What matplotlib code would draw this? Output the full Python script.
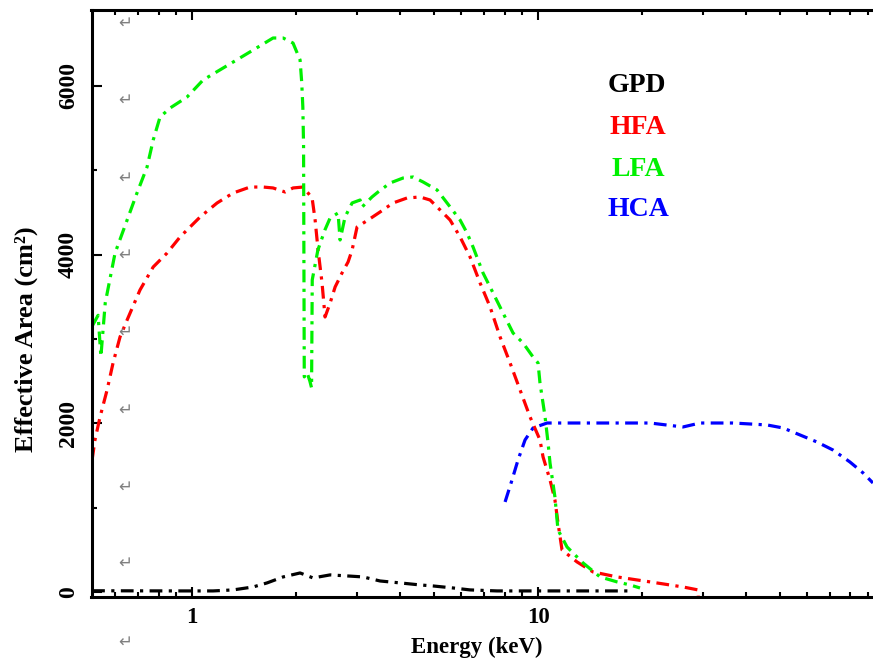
import matplotlib
matplotlib.use("Agg")
import matplotlib.pyplot as plt
from matplotlib.ticker import FixedLocator, NullFormatter

# ---- effective-area curves (energy in keV, area in cm^2) ----
gpd_energy = [0.514, 0.92, 1.15, 1.314, 1.501, 1.647, 1.833, 2.052, 2.237, 2.506,
              2.805, 3.12, 3.494, 3.993, 4.56, 4.97, 5.68, 6.36, 7.61, 10.0, 14.0, 18.8]
gpd_area = [14, 12, 12, 24, 59, 107, 178, 225, 166, 202,
            190, 178, 130, 107, 83, 71, 47, 24, 12, 12, 12, 12]

hfa_energy = [0.514, 0.524, 0.542, 0.568, 0.591, 0.619, 0.649, 0.707, 0.772, 0.847,
              0.923, 1.055, 1.181, 1.314, 1.471, 1.604, 1.714, 1.857, 1.958, 2.094,
              2.223, 2.268, 2.313, 2.375, 2.423, 2.506, 2.591, 2.713, 2.824, 2.901,
              2.998, 3.226, 3.494, 3.81, 4.181, 4.56, 4.875, 5.211, 5.568, 5.952,
              6.362, 6.8, 7.268, 7.768, 8.301, 8.872, 9.482, 10.13, 10.34, 10.83,
              11.19, 11.42, 11.73, 12.96, 14.42, 16.92, 21.08, 26.24, 29.0, 29.05]
hfa_area = [1565, 1802, 2075, 2395, 2715, 3023, 3225, 3580, 3853, 4019,
            4209, 4446, 4612, 4730, 4801, 4801, 4790, 4742, 4790, 4801,
            4671, 4410, 4054, 3663, 3260, 3426, 3616, 3782, 3912, 4054,
            4327, 4410, 4505, 4612, 4671, 4683, 4647, 4529, 4410, 4209,
            3971, 3663, 3379, 3023, 2715, 2395, 2075, 1802, 1600, 1328,
            1091, 818, 498, 356, 237, 178, 119, 59, 24, -60]

lfa_energy = [0.514, 0.535, 0.545, 0.561, 0.599, 0.649, 0.693, 0.741, 0.772, 0.808,
              0.864, 0.967, 1.076, 1.314, 1.501, 1.714, 1.833, 1.958, 2.052, 2.075,
              2.09, 2.10, 2.11, 2.15, 2.19, 2.215, 2.225, 2.31, 2.42, 2.506,
              2.642, 2.678, 2.768, 2.901, 3.059, 3.10, 3.311, 3.448, 3.736, 4.073,
              4.353, 4.652, 5.107, 5.458, 5.952, 6.234, 6.488, 6.934, 7.413, 7.922,
              8.468, 9.05, 9.672, 10.0, 10.13, 10.48, 10.69, 10.83, 11.19, 11.42,
              12.13, 13.49, 15.11, 16.92, 18.44, 19.71]
lfa_area = [3150, 3280, 2790, 3426, 4019, 4410, 4730, 5038, 5358, 5631,
            5738, 5868, 6070, 6283, 6425, 6568, 6568, 6508, 6307, 6034,
            5750, 5300, 2550, 2600, 2500, 2420, 3700, 4054, 4291, 4434,
            4493, 4173, 4446, 4612, 4647, 4564, 4683, 4742, 4849, 4908,
            4920, 4861, 4766, 4612, 4410, 4256, 4090, 3782, 3545, 3307,
            3070, 2952, 2786, 2715, 2478, 2075, 1766, 1529, 1126, 735,
            533, 344, 178, 119, 83, 47]

hca_energy = [8.03, 8.41, 8.753, 9.171, 9.672, 10.62, 12.13, 15.11, 21.08, 26.24,
              29.39, 36.6, 45.9, 51.1, 57.2, 64.0, 71.2, 79.7, 87.0, 92.9]
hca_area = [1067, 1328, 1565, 1802, 1944, 2003, 2003, 2003, 2003, 1956,
            2003, 2003, 1980, 1944, 1861, 1778, 1683, 1541, 1411, 1292]

series_names = ["GPD", "HFA", "LFA", "HCA"]
series_colors = ["#000000", "#ff0000", "#00f000", "#0000ff"]

x_major = [1, 10]
x_major_labels = ["1", "10"]
y_major = [0, 2000, 4000, 6000]
y_minor = [1000, 3000, 5000]

# paragraph marks running down the page
para_marks = ["\u21b5"] * 9
para_mark_y = [23, 100, 178, 255, 332, 410, 487, 563, 642]

W, H = 873, 659
fig = plt.figure(figsize=(W / 100, H / 100), dpi=100)
ax_left, ax_right, ax_top, ax_bottom = 91.5, 884.0, 10.0, 597.0
ax = fig.add_axes([ax_left / W, (H - ax_bottom) / H,
                   (ax_right - ax_left) / W, (ax_bottom - ax_top) / H])

serif = ["Liberation Serif", "DejaVu Serif"]
dash_dot = (0, (4, 2, 1, 2))
lw = 2.3

curves = [(gpd_energy, gpd_area), (hfa_energy, hfa_area),
          (lfa_energy, lfa_area), (hca_energy, hca_area)]
for (e, a), col in zip(curves, series_colors):
    ax.plot(e, a, color=col, lw=lw, linestyle=dash_dot, solid_capstyle="butt")

ax.set_xscale("log")
ax.set_xlim(0.512, 100)
ax.set_ylim(-60, 6900)

ax.xaxis.set_major_locator(FixedLocator(x_major))
ax.set_xticklabels(x_major_labels)
minor_x = [m * d for d in (0.1, 1, 10) for m in range(2, 10)]
ax.xaxis.set_minor_locator(FixedLocator(minor_x))
ax.xaxis.set_minor_formatter(NullFormatter())
ax.yaxis.set_major_locator(FixedLocator(y_major))
ax.yaxis.set_minor_locator(FixedLocator(y_minor))

for s in ax.spines.values():
    s.set_linewidth(2.2)

ax.tick_params(which="both", direction="in", top=True, right=True, width=1.5)
ax.tick_params(which="major", length=7.2)
ax.tick_params(which="minor", length=3.6)
ax.tick_params(axis="x", pad=7)
ax.tick_params(axis="y", pad=9)

for lbl in ax.get_xticklabels():
    lbl.set_fontfamily(serif)
    lbl.set_fontweight("bold")
    lbl.set_fontsize(16.5)
for lbl in ax.get_yticklabels():
    lbl.set_fontfamily(serif)
    lbl.set_fontweight("bold")
    lbl.set_fontsize(17)
    lbl.set_rotation(90)
    lbl.set_va("center")

ax.set_xlabel("Energy (keV)", fontfamily=serif, fontweight="bold", fontsize=16.5)
ax.set_ylabel("Effective Area (cm\u00b2)", fontfamily=serif, fontweight="bold", fontsize=19)
ax.xaxis.set_label_coords((477 - ax_left) / (ax_right - ax_left),
                          (ax_bottom - 637) / (ax_bottom - ax_top))
ax.yaxis.set_label_coords((38 - ax_left) / (ax_right - ax_left),
                          (ax_bottom - 339) / (ax_bottom - ax_top))

# series names stacked in the upper right
legend_x = [608, 609, 611, 607]
legend_y = [85, 127, 170, 210]
for name, col, lx, ly in zip(series_names, series_colors, legend_x, legend_y):
    fig.text(lx / W, 1 - ly / H, name, color=col, fontfamily=serif,
             fontweight="bold", fontsize=20, ha="left", va="center")

for m, my in zip(para_marks, para_mark_y):
    fig.text(125 / W, 1 - my / H, m, color="#808080", fontsize=12,
             fontfamily="DejaVu Sans", ha="center", va="center")

fig.savefig("out.png", dpi=100)
